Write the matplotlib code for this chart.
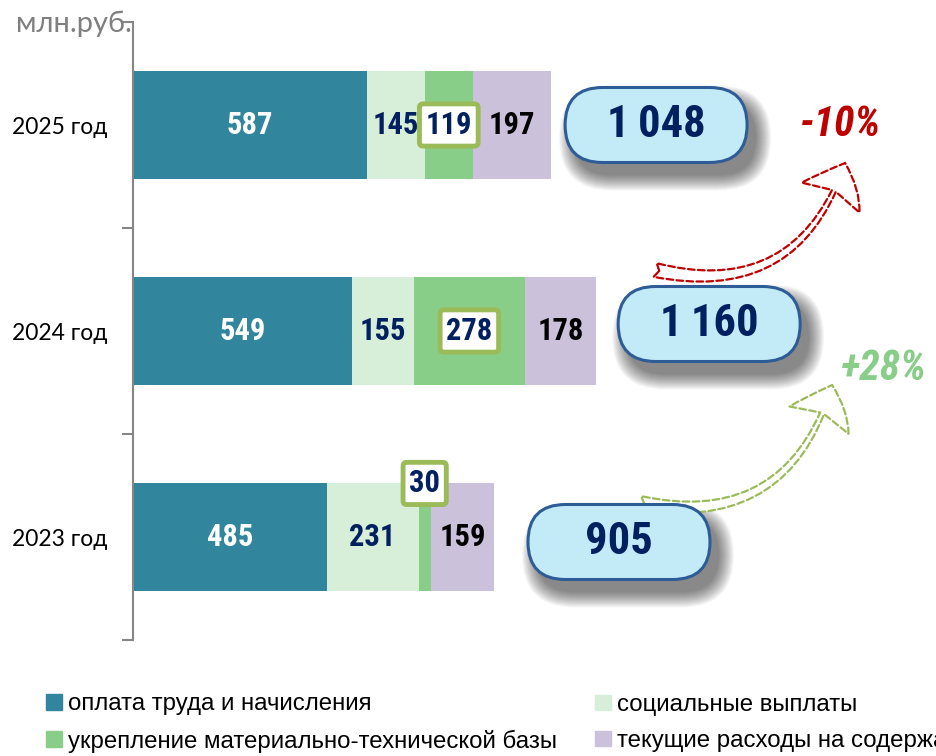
import matplotlib.pyplot as plt
from matplotlib.patches import FancyBboxPatch, FancyArrowPatch, Patch
from matplotlib.transforms import IdentityTransform

# данные
years = ["2023 год", "2024 год", "2025 год"]
series_names = [
    "оплата труда и начисления",
    "социальные выплаты",
    "укрепление материально-технической базы",
    "текущие расходы на содержание имущества",
]
payroll = [485, 549, 587]
social = [231, 155, 145]
equipment = [30, 278, 119]
current = [159, 178, 197]
changes = ["+28%", "-10%"]

colors = ["#31859C", "#D7EED8", "#88CE88", "#CCC1DA"]
label_colors = ["white", "#002060", "#002060", "black"]
narrow = ["Roboto Condensed", "Roboto", "DejaVu Sans"]
plain = ["Lato", "DejaVu Sans"]
legend_font = ["Liberation Sans", "DejaVu Sans"]

fig = plt.figure(figsize=(9.37, 7.56), dpi=100)
ax = fig.add_axes([133 / 937, 1 - 640 / 756, 1 - 133 / 937, 618 / 756])
ax.set_xlim(0, 2015)
ax.set_ylim(-0.5, 2.5)

series = [payroll, social, equipment, current]
ypos = list(range(len(years)))
bar_h = 0.52
lefts = [0] * len(years)
for k, vals in enumerate(series):
    ax.barh(ypos, vals, left=lefts, height=bar_h, color=colors[k], zorder=2)
    for i, v in enumerate(vals):
        cx = lefts[i] + v / 2
        cy = ypos[i]
        box = None
        if k == 2:
            box = dict(boxstyle="round,pad=0.2,rounding_size=0.12",
                       fc="white", ec="#9BBB59", lw=3.5)
            if v < 60:
                cy = ypos[i] + bar_h / 2
        ax.text(cx, cy, str(v), ha="center", va="center", fontsize=22,
                fontweight="bold", family=narrow, color=label_colors[k],
                bbox=box, zorder=4)
    lefts = [a + b for a, b in zip(lefts, vals)]
totals = lefts

# оси
for s in ["top", "right", "bottom"]:
    ax.spines[s].set_visible(False)
ax.spines["left"].set_color("#868686")
ax.spines["left"].set_linewidth(1.5)
ax.set_xticks([])
ax.set_yticks([-0.5, 0.5, 1.5, 2.5])
ax.set_yticklabels([])
ax.tick_params(axis="y", which="major", length=8, width=1.5, color="#868686")
ax.set_yticks(ypos, minor=True)
ax.set_yticklabels(years, minor=True, fontsize=16.5, family=plain)
ax.tick_params(axis="y", which="minor", length=0, pad=18)
ax.text(-0.002, 0.984, "млн.руб.", transform=ax.transAxes, ha="right",
        va="baseline", fontsize=21, family=plain, color="#7F7F7F")

# итоговые "таблетки"
pill_gap = [313, 284, 263]
pill_dy = [-5, 7, 0]
pill_w, pill_h = 182, 75
pill_centers = []
ident = IdentityTransform()
for i, t in enumerate(totals):
    cx, cy = ax.transData.transform((t + pill_gap[i], ypos[i]))
    cy += pill_dy[i]
    pill_centers.append((cx, cy))
    for s in range(16):
        sh = FancyBboxPatch((cx - pill_w / 2 + 9 - s, cy - pill_h / 2 - 13 - s),
                            pill_w + 2 * s, pill_h + 2 * s,
                            boxstyle=f"round,pad=0,rounding_size={pill_h / 2 + s}",
                            fc="black", ec="none", alpha=0.034,
                            transform=ident, zorder=5)
        fig.add_artist(sh)
    pill = FancyBboxPatch((cx - pill_w / 2, cy - pill_h / 2), pill_w, pill_h,
                          boxstyle=f"round,pad=0,rounding_size={pill_h / 2}",
                          fc="#C3EAF7", ec="#2E5C96", lw=2.2,
                          transform=ident, zorder=6)
    fig.add_artist(pill)
    fig.text(cx, cy, f"{t:,}".replace(",", "\u2009"), transform=ident,
             ha="center", va="center", fontsize=32, fontweight="bold",
             family=narrow, color="#002060", zorder=7)

# проценты изменения и стрелки
pct_colors = ["#88CE88", "#C00000"]
arrow_colors = ["#9BBB59", "#C00000"]
pct_offsets = [(175, -44), (184, 0)]
arrow_start = [(21, 39), (-54, 54)]
arrow_end = [(-52, -17), (5, -38)]
for j in range(2):
    bx, by = pill_centers[j + 1]
    px, py = bx + pct_offsets[j][0], by + pct_offsets[j][1]
    fig.text(px, py, changes[j], transform=ident, ha="center", va="center",
             fontsize=30, fontweight="bold", style="italic", family=narrow,
             color=pct_colors[j], zorder=7)
    ax_, ay_ = pill_centers[j]
    arr = FancyArrowPatch((ax_ + arrow_start[j][0], ay_ + arrow_start[j][1]),
                          (px + arrow_end[j][0], py + arrow_end[j][1]),
                          connectionstyle="arc3,rad=0.45",
                          arrowstyle="fancy,head_length=0.75,head_width=1.3,tail_width=0.28",
                          mutation_scale=36, fc="white", ec=arrow_colors[j],
                          lw=1.6, linestyle=(0, (3, 1.5)),
                          shrinkA=0, shrinkB=0, transform=ident, zorder=5)
    fig.add_artist(arr)

# легенда: два столбца
handles = [Patch(color=c) for c in colors]
leg_cols = [[0, 2], [1, 3]]
leg_x = [46 / 937, 595 / 937]
for col, x0 in zip(leg_cols, leg_x):
    fig.legend([handles[i] for i in col], [series_names[i] for i in col],
               loc="center left", bbox_to_anchor=(x0, 1 - 723 / 756),
               frameon=False, handlelength=0.65, handleheight=0.62,
               handletextpad=0.28, labelspacing=0.58, borderpad=0,
               borderaxespad=0, prop={"family": legend_font, "size": 17.3})

fig.savefig("out.png", dpi=100)
